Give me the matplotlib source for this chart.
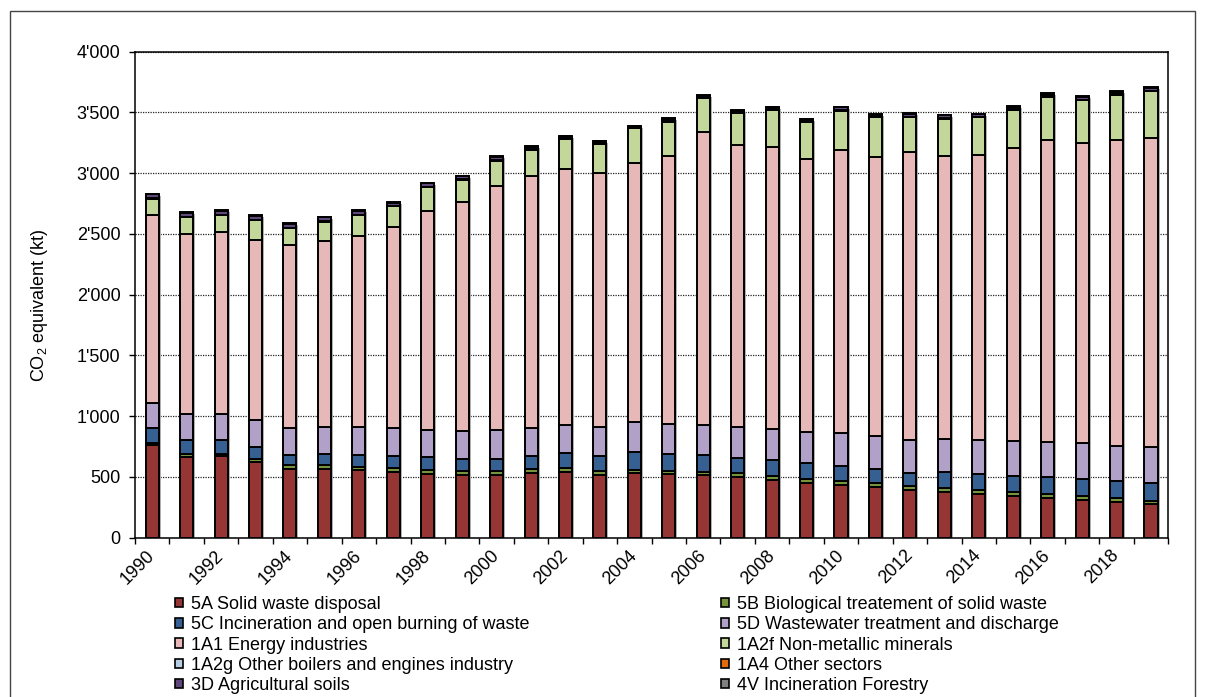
import matplotlib
matplotlib.use('Agg')
import matplotlib.pyplot as plt
import matplotlib.transforms as mtransforms
from matplotlib.patches import Rectangle, Patch
from matplotlib.ticker import FuncFormatter, MultipleLocator
import numpy as np

plt.rcParams['font.family'] = ['Liberation Sans', 'DejaVu Sans']
plt.rcParams['mathtext.default'] = 'regular'

# data (kt CO2 eq)
years = list(range(1990, 2020))
s_5A = [764, 667, 670, 621, 566, 569, 555, 539, 525, 517, 517, 530, 541, 517, 530,
        522, 514, 497, 473, 451, 431, 415, 393, 377, 360, 344, 327, 311, 294, 275]
s_5B = [19, 20, 19, 25, 31, 28, 28, 33, 33, 30, 30, 34, 31, 30, 28,
        30, 30, 33, 32, 32, 36, 33, 33, 35, 33, 35, 33, 30, 36, 30]
s_5C = [118, 118, 114, 104, 87, 93, 101, 101, 104, 104, 104, 109, 126, 129, 146,
        138, 140, 129, 132, 130, 123, 118, 110, 132, 129, 129, 138, 143, 135, 148]
s_5D = [211, 217, 219, 217, 222, 222, 228, 228, 225, 231, 234, 233, 233, 239, 244,
        244, 245, 253, 259, 258, 270, 272, 269, 272, 283, 289, 291, 294, 291, 294]
s_1A1 = [1547, 1478, 1497, 1480, 1506, 1527, 1568, 1657, 1799, 1878, 2007, 2069, 2107, 2084, 2139,
         2211, 2414, 2318, 2323, 2244, 2335, 2299, 2367, 2323, 2348, 2414, 2488, 2474, 2515, 2541]
s_1A2f = [132, 137, 138, 168, 134, 162, 177, 169, 201, 187, 212, 220, 245, 245, 281,
          280, 272, 264, 303, 310, 321, 324, 289, 311, 308, 311, 352, 349, 375, 385]
s_1A2g = [2] * 30
s_1A4 = [1] * 30
s_3D = [32, 32, 32, 29, 32, 33, 28, 28, 27, 24, 30, 18, 18, 16, 15,
        19, 18, 15, 16, 16, 22, 19, 27, 22, 21, 24, 24, 24, 23, 29]
s_4V = [6] * 30

series = [
    ('5A Solid waste disposal', s_5A, '#963634'),
    ('5B Biological treatement of solid waste', s_5B, '#77933C'),
    ('5C Incineration and open burning of waste', s_5C, '#366092'),
    ('5D Wastewater treatment and discharge', s_5D, '#B1A0C7'),
    ('1A1 Energy industries', s_1A1, '#E6B8B7'),
    ('1A2f Non-metallic minerals', s_1A2f, '#C4D79B'),
    ('1A2g Other boilers and engines industry', s_1A2g, '#B8CCE4'),
    ('1A4 Other sectors', s_1A4, '#E26B0A'),
    ('3D Agricultural soils', s_3D, '#60497A'),
    ('4V Incineration Forestry', s_4V, '#808080'),
]

fig = plt.figure(figsize=(12.05, 6.97), dpi=100)
ax = fig.add_axes([0.1120, 0.2286, 0.8575, 0.6972])

x = np.arange(len(years))
w = 0.38

# light shadow behind the stacks
total = np.sum([s[1] for s in series], axis=0)
shadow = mtransforms.offset_copy(ax.transData, fig=fig, x=2, y=-2, units='dots')
ax.bar(x, total, w, color='#b0b0b0', edgecolor='none', transform=shadow, zorder=1.5)

bottom = np.zeros(len(years))
handles = []
for name, vals, col in series:
    ax.bar(x, vals, w, bottom=bottom, color=col, edgecolor='black', linewidth=1.4, zorder=2)
    bottom = bottom + np.array(vals)
    handles.append(Patch(facecolor=col, edgecolor='black', linewidth=1.2, label=name))

ax.set_xlim(-0.5, len(years) - 0.5)
ax.set_ylim(0, 4000)
ax.yaxis.set_major_locator(MultipleLocator(500))
ax.yaxis.set_major_formatter(FuncFormatter(lambda v, p: f"{int(v):,}".replace(',', "'")))
ax.grid(axis='y', linestyle=(0, (1, 1)), color='#222222', linewidth=0.9, zorder=0)
ax.set_axisbelow(True)

ax.set_xticks(x[::2])
ax.set_xticklabels([str(y) for y in years[::2]], rotation=45, ha='right', va='center',
                   rotation_mode='anchor', fontsize=13)
shift = mtransforms.ScaledTranslation(3 / 100, 0, fig.dpi_scale_trans)
for lab in ax.get_xticklabels():
    lab.set_transform(lab.get_transform() + shift)
ax.set_xticks(np.arange(len(years) + 1) - 0.5, minor=True)
ax.tick_params(axis='x', which='major', length=0, pad=11)
ax.tick_params(axis='x', which='minor', length=4.5, width=1, direction='out')
ax.tick_params(axis='y', length=4.5, width=1, direction='out', labelsize=13, pad=6)

for sp in ax.spines.values():
    sp.set_linewidth(1.1)
    sp.set_color('black')

ax.set_ylabel('CO$_2$ equivalent (kt)', fontsize=13)
ax.yaxis.set_label_coords(-0.082, 0.479)

# legend in two blocks (row order 5A|5B, 5C|5D, ...)
leg_kw = dict(loc='upper left', frameon=False, fontsize=13, borderpad=0,
              handlelength=0.45, handleheight=0.45, handletextpad=0.4, labelspacing=0.18,
              borderaxespad=0)
l1 = fig.legend(handles=handles[0::2], bbox_to_anchor=(0.1455, 0.1448), **leg_kw)
l2 = fig.legend(handles=handles[1::2], bbox_to_anchor=(0.5985, 0.1448), **leg_kw)

# outer frame
fig.add_artist(Rectangle((9.5 / 1205, -0.02), (1195 - 9.5) / 1205, 1 - 10.5 / 697 + 0.02,
                         transform=fig.transFigure, fill=False, edgecolor='#444444', linewidth=1))

fig.savefig('out.png', dpi=100)
plt.close()
